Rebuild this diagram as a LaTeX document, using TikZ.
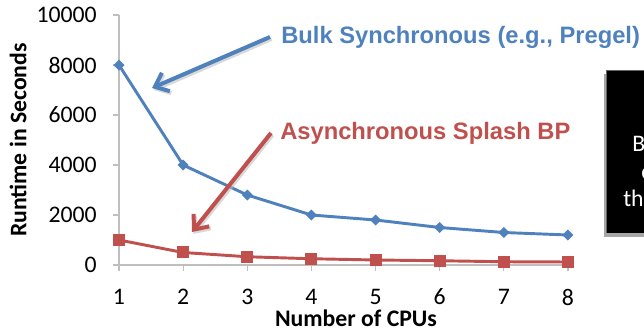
\documentclass[tikz,border=0pt]{standalone}
\usepackage{fontspec}
\setmainfont{Carlito}
\newfontfamily\arialfont{Liberation Sans}
\usetikzlibrary{arrows.meta}
\definecolor{serblue}{HTML}{4F81BD}
\definecolor{serred}{HTML}{C0504D}
\definecolor{axisgray}{HTML}{BFBFBF}
\begin{document}
\begin{tikzpicture}[x=0.75pt,y=-0.75pt,
  axisline/.style={draw=axisgray,line width=0.9pt},
  ticklabel/.style={font=\fontsize{17.8}{21}\selectfont,inner sep=0pt},
  axistitle/.style={font=\fontsize{17.8}{21}\selectfont\bfseries,inner sep=0pt},
  serline/.style={line width=2.2pt,line join=round},
  callout/.style={font=\arialfont\fontsize{17.8}{21}\selectfont\bfseries,inner sep=0pt,anchor=west},
  pointer/.style={line width=3pt,-{Straight Barb[length=9pt,width=15pt,line width=3pt]}},
  boxtext/.style={font=\fontsize{17.8}{21}\selectfont,text=white,inner sep=0pt,anchor=base west}
]
\useasboundingbox (0,0) rectangle (644,331);
% axes
\draw[axisline] (119,15) -- (119,265);
\draw[axisline] (113,265) -- (572,265);
\foreach \v/\lab in {0/0,2000/2000,4000/4000,6000/6000,8000/8000,10000/10000}{
  \draw[axisline] (113,{265-\v*0.025}) -- (119,{265-\v*0.025});
  \node[ticklabel,anchor=east] (yl\v) at (97,{265-\v*0.025}) {\lab};
}
\foreach \i in {1,...,8}{
  \draw[axisline] ({119+(\i-1)*64.14},265) -- ({119+(\i-1)*64.14},271);
  \node[ticklabel] (xl\i) at ({119+(\i-1)*64.14},297) {\i};
}
\node[axistitle] (xtitle) at (356,318) {Number of CPUs};
\node[axistitle,rotate=90] (ytitle) at (18,140) {Runtime in Seconds};
% data coordinates
\foreach \i/\b/\r in {1/8000/1000,2/4000/500,3/2800/330,4/2000/250,5/1800/200,6/1500/170,7/1300/130,8/1200/120}{
  \coordinate (b\i) at ({119+(\i-1)*64.14},{265-\b*0.025});
  \coordinate (r\i) at ({119+(\i-1)*64.14},{265-\r*0.025});
}
\draw[serline,serred] (r1)--(r2)--(r3)--(r4)--(r5)--(r6)--(r7)--(r8);
\foreach \i in {1,...,8}{
  \fill[serred] ([shift={(-6,-6)}]r\i) rectangle ([shift={(6,6)}]r\i);
}
\draw[serline,serblue] (b1)--(b2)--(b3)--(b4)--(b5)--(b6)--(b7)--(b8);
\foreach \i in {1,...,8}{
  \fill[serblue] ([shift={(0,-5.5)}]b\i) -- ([shift={(5.5,0)}]b\i) -- ([shift={(0,5.5)}]b\i) -- ([shift={(-5.5,0)}]b\i) -- cycle;
}
% callouts
\node[callout,text=serblue] (bulk) at (281,37) {Bulk Synchronous (e.g., Pregel)};
\node[callout,text=serred] (async) at (280,133) {Asynchronous Splash BP};
\coordinate (bulktail) at (270,37);
\coordinate (bulktip) at (152,88);
\coordinate (asynctail) at (271,133);
\coordinate (asynctip) at (192,232);
\draw[pointer,black!25,opacity=0.6] ([shift={(1.5,2)}]bulktail) -- ([shift={(1.5,2)}]bulktip);
\draw[pointer,black!25,opacity=0.6] ([shift={(1.5,2)}]asynctail) -- ([shift={(1.5,2)}]asynctip);
\draw[pointer,serblue] (bulktail) -- (bulktip);
\draw[pointer,serred] (asynctail) -- (asynctip);
% black box
\begin{scope}
\clip (0,0) rectangle (644,331);
\fill[black!35] (604,74) rectangle (650,237);
\fill[black] (606,70) rectangle (650,233);
\draw[black!60,line width=0.8pt] (606.4,233) -- (606.4,70.4) -- (650,70.4);
\node[boxtext] (bx1) at (632,152) {B};
\node[boxtext] (bx2) at (641,179.5) {c};
\node[boxtext] (bx3) at (623,207) {th};
\end{scope}
\end{tikzpicture}
\end{document}
